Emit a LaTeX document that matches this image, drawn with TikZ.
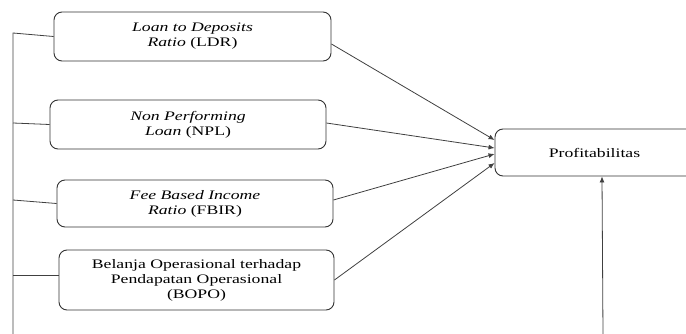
\documentclass[tikz,border=0pt]{standalone}
\usepackage{fontspec}
\setmainfont{Liberation Serif}[FakeStretch=1.36]
\usetikzlibrary{arrows.meta}
\begin{document}
\begin{tikzpicture}[x=1pt,y=-1pt,
  varbox/.style={draw=black!80, line width=0.9pt, rounded corners=8pt, align=center,
    font=\fontsize{13}{15}\selectfont, inner sep=0pt},
  link/.style={draw=black!75, line width=0.8pt},
  arr/.style={link, -{Latex[length=6pt,width=5pt]}}]
\useasboundingbox (0,0) rectangle (686,334);
\clip (0,0) rectangle (686,334);
\node[varbox, minimum width=277pt, minimum height=49pt] (ldr) at (192.5,36.5) {\textit{Loan to Deposits}\\\textit{Ratio} (LDR)};
\node[varbox, minimum width=276pt, minimum height=49pt] (npl) at (188,124.5) {\textit{Non Performing}\\\textit{Loan} (NPL)};
\node[varbox, minimum width=276pt, minimum height=47pt] (fbir) at (195,203.5) {\textit{Fee Based Income}\\\textit{Ratio} (FBIR)};
\node[varbox, minimum width=275pt, minimum height=60pt] (bopo) at (196.5,280) {Belanja Operasional terhadap\\Pendapatan Operasional\\(BOPO)};
\node[varbox, minimum width=199pt, minimum height=47pt] (prof) at (594.5,152.5) {Profitabilitas};
\coordinate (top) at (13,33);
\coordinate (bot) at (13,334);
\coordinate (t2) at (13,123);
\coordinate (t3) at (13,200);
\coordinate (t4) at (13,275);
\coordinate (src) at (603,334);
\draw[link] (bot) -- (top) -- (ldr.west);
\draw[link] (t2) -- (npl.west);
\draw[link] (t3) -- (fbir.west);
\draw[link] (t4) -- (t4 -| bopo.west);
\draw[arr] ([yshift=-7.5pt]ldr.east) -- ([yshift=12.5pt]prof.west);
\draw[arr] ([yshift=1.5pt]npl.east) -- ([yshift=4.5pt]prof.west);
\draw[arr] ([yshift=3.5pt]fbir.east) -- ([yshift=-1.5pt]prof.west);
\draw[arr] (bopo.east) -- ([yshift=-10.5pt]prof.west);
\draw[arr] (src) -- ([xshift=7.5pt]prof.south);
\end{tikzpicture}
\end{document}
